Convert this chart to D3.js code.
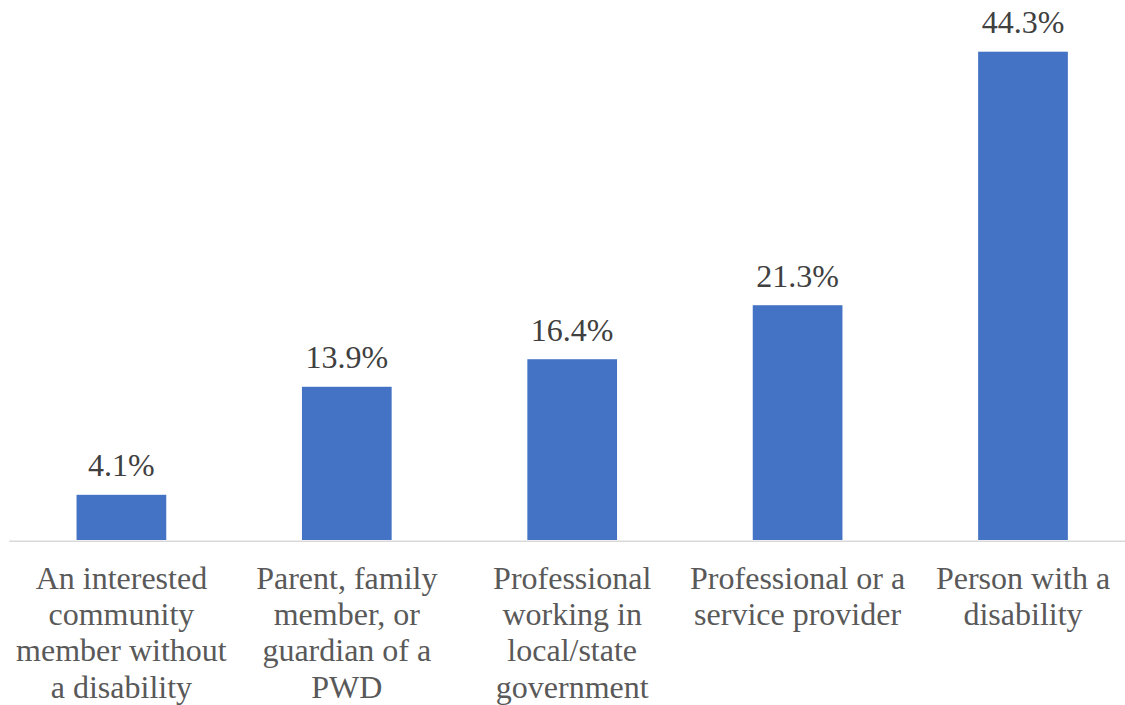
<!DOCTYPE html>
<html>
<head>
<meta charset="utf-8">
<script src="https://cdn.jsdelivr.net/npm/d3@7"></script>
<style>
  html, body { margin: 0; padding: 0; background: #fff; }
  svg { display: block; }
</style>
</head>
<body>
<div id="chart"></div>
<script>
// ---- Data ----
const categories = [
  'An interested community member without a disability',
  'Parent, family member, or guardian of a PWD',
  'Professional working in local/state government',
  'Professional or a service provider',
  'Person with a disability'
];
// wrapped lines of each category label, as in the picture
const categoryLines = [
  ['An interested', 'community', 'member without', 'a disability'],
  ['Parent, family', 'member, or', 'guardian of a', 'PWD'],
  ['Professional', 'working in', 'local/state', 'government'],
  ['Professional or a', 'service provider'],
  ['Person with a', 'disability']
];
const values = [4.1, 13.9, 16.4, 21.3, 44.3];

// ---- Dimensions ----
const width = 1125;
const height = 705;
const baseline = 540;
const plotLeft = 8.7;
const step = 225.4;
const serif = "'Liberation Serif', 'Times New Roman', Tinos";

const svg = d3.select('#chart')
  .append('svg')
  .attr('width', width)
  .attr('height', height);

// ---- Scales ----
const x = d3.scaleBand()
  .domain(categories)
  .range([plotLeft, plotLeft + step * categories.length])
  .paddingInner(0.602)
  .paddingOuter(0.301);

const y = d3.scaleLinear()
  .domain([0, d3.max(values)])
  .range([baseline, 51.7]);

// ---- Bars ----
svg.append('g')
  .selectAll('rect')
  .data(values)
  .join('rect')
  .attr('x', (d, i) => x(categories[i]))
  .attr('y', d => y(d))
  .attr('width', x.bandwidth())
  .attr('height', d => baseline - y(d))
  .attr('fill', '#4472C4');

// ---- Value labels ----
svg.append('g')
  .selectAll('text')
  .data(values)
  .join('text')
  .attr('x', (d, i) => x(categories[i]) + x.bandwidth() / 2)
  .attr('y', d => y(d) - 18.5)
  .attr('text-anchor', 'middle')
  .style('font-family', serif)
  .style('font-size', '32px')
  .attr('fill', '#404040')
  .text(d => d.toFixed(1) + '%');

// ---- Category axis ----
const axis = svg.append('g')
  .attr('transform', `translate(0, ${baseline + 0.75})`)
  .call(d3.axisBottom(x).tickSize(0).tickFormat(''));

axis.select('.domain')
  .attr('stroke', '#D9D9D9')
  .attr('stroke-width', 1.5);

axis.selectAll('.tick text').remove();

axis.selectAll('.tick')
  .append('text')
  .attr('text-anchor', 'middle')
  .style('font-family', serif)
  .style('font-size', '32px')
  .attr('fill', '#595959')
  .selectAll('tspan')
  .data(d => categoryLines[categories.indexOf(d)])
  .join('tspan')
  .attr('x', 0)
  .attr('y', (d, i) => 48.5 + i * 36.1)
  .text(d => d);
</script>
</body>
</html>
